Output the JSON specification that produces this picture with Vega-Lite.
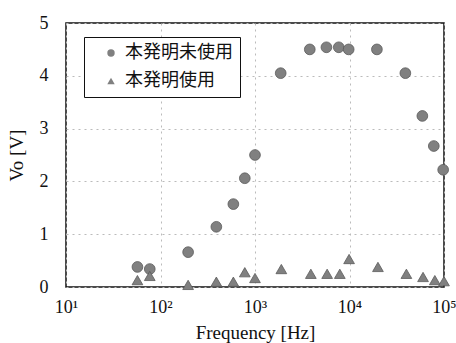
{
  "$schema": "https://vega.github.io/schema/vega-lite/v6.json",
  "autosize": "none",
  "width": 378,
  "height": 264,
  "padding": {"left": 66, "top": 23, "right": 12, "bottom": 56},
  "background": "white",
  "config": {
    "view": {"stroke": "#111", "strokeWidth": 1.5},
    "font": "Liberation Serif"
  },
  "data": {
    "values": [
      {"f": 57, "v": 0.38, "s": "本発明未使用"},
      {"f": 77, "v": 0.34, "s": "本発明未使用"},
      {"f": 196, "v": 0.66, "s": "本発明未使用"},
      {"f": 390, "v": 1.14, "s": "本発明未使用"},
      {"f": 590, "v": 1.57, "s": "本発明未使用"},
      {"f": 780, "v": 2.06, "s": "本発明未使用"},
      {"f": 1000, "v": 2.5, "s": "本発明未使用"},
      {"f": 1870, "v": 4.05, "s": "本発明未使用"},
      {"f": 3800, "v": 4.5, "s": "本発明未使用"},
      {"f": 5700, "v": 4.54, "s": "本発明未使用"},
      {"f": 7700, "v": 4.54, "s": "本発明未使用"},
      {"f": 9800, "v": 4.5, "s": "本発明未使用"},
      {"f": 19500, "v": 4.5, "s": "本発明未使用"},
      {"f": 39000, "v": 4.05, "s": "本発明未使用"},
      {"f": 59000, "v": 3.24, "s": "本発明未使用"},
      {"f": 78000, "v": 2.67, "s": "本発明未使用"},
      {"f": 98000, "v": 2.22, "s": "本発明未使用"},
      {"f": 57, "v": 0.13, "s": "本発明使用"},
      {"f": 77, "v": 0.21, "s": "本発明使用"},
      {"f": 196, "v": 0.04, "s": "本発明使用"},
      {"f": 390, "v": 0.1, "s": "本発明使用"},
      {"f": 590, "v": 0.1, "s": "本発明使用"},
      {"f": 780, "v": 0.28, "s": "本発明使用"},
      {"f": 1000, "v": 0.17, "s": "本発明使用"},
      {"f": 1900, "v": 0.34, "s": "本発明使用"},
      {"f": 3900, "v": 0.25, "s": "本発明使用"},
      {"f": 5800, "v": 0.25, "s": "本発明使用"},
      {"f": 7900, "v": 0.25, "s": "本発明使用"},
      {"f": 9900, "v": 0.53, "s": "本発明使用"},
      {"f": 20000, "v": 0.38, "s": "本発明使用"},
      {"f": 40000, "v": 0.25, "s": "本発明使用"},
      {"f": 60000, "v": 0.19, "s": "本発明使用"},
      {"f": 80000, "v": 0.13, "s": "本発明使用"},
      {"f": 100000, "v": 0.11, "s": "本発明使用"}
    ]
  },
  "mark": {"type": "point", "filled": true, "opacity": 1, "size": 115, "stroke": "#5a5a5a", "strokeWidth": 0.8},
  "encoding": {
    "x": {
      "field": "f", "type": "quantitative",
      "scale": {"type": "log", "domain": [10, 100000], "nice": false},
      "axis": {
        "title": "Frequency [Hz]",
        "titleFont": "Liberation Serif", "titleFontWeight": "normal", "titleFontSize": 19, "titleColor": "#111",
        "titlePadding": 7,
        "values": [10, 100, 1000, 10000, 100000],
        "labelExpr": "datum.value == 10 ? '10¹' : datum.value == 100 ? '10²' : datum.value == 1000 ? '10³' : datum.value == 10000 ? '10⁴' : '10⁵'",
        "labelFont": "Liberation Serif", "labelFontSize": 18, "labelColor": "#111",
        "labelPadding": 11, "ticks": false, "domain": false,
        "labelFlush": false, "labelOverlap": false,
        "grid": true, "gridColor": "#bbb", "gridDash": [2, 4], "gridWidth": 1
      }
    },
    "y": {
      "field": "v", "type": "quantitative",
      "scale": {"domain": [0, 5], "nice": false},
      "axis": {
        "title": "Vo [V]",
        "titleFont": "Liberation Serif", "titleFontWeight": "normal", "titleFontSize": 19, "titleColor": "#111",
        "titlePadding": 13,
        "values": [0, 1, 2, 3, 4, 5],
        "labelFont": "Liberation Serif", "labelFontSize": 18, "labelColor": "#111",
        "labelPadding": 18, "ticks": false, "domain": false,
        "grid": true, "gridColor": "#bbb", "gridDash": [2, 4], "gridWidth": 1
      }
    },
    "shape": {
      "field": "s", "type": "nominal",
      "scale": {"domain": ["本発明未使用", "本発明使用"], "range": ["circle", "triangle-up"]},
      "legend": {
        "title": null, "orient": "none", "legendX": 18, "legendY": 14,
        "strokeColor": "#111", "fillColor": "white", "padding": 7,
        "labelFont": "Noto Sans CJK JP", "labelFontSize": 18, "labelColor": "#111",
        "symbolFillColor": "#888", "symbolStrokeColor": "#777", "symbolSize": 55,
        "symbolOffset": 11,
        "rowPadding": 10, "labelOffset": 5
      }
    },
    "color": {"value": "#808080"}
  }
}
